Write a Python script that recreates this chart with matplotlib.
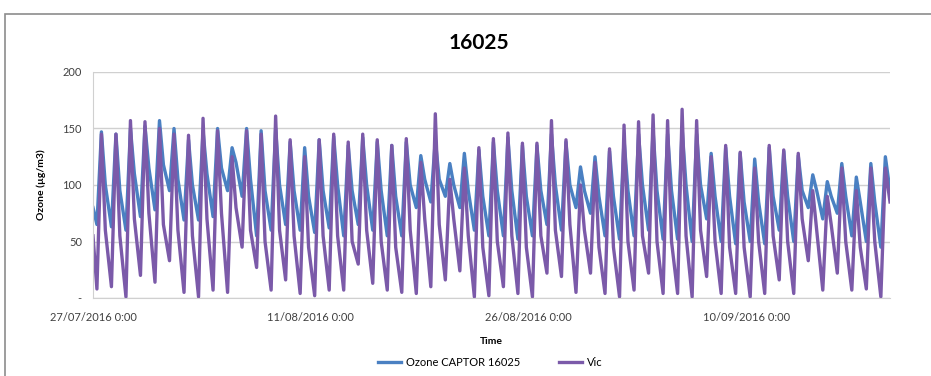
import numpy as np
import pandas as pd
import matplotlib
matplotlib.use("Agg")
import matplotlib.pyplot as plt
from matplotlib.patches import Rectangle
from matplotlib.ticker import FuncFormatter

plt.rcParams["font.family"] = ["Lato", "DejaVu Sans"]

# daily readings (ug/m3), one entry per day from 27/07/2016:
# morning low, afternoon high, evening value
captor_trough = [65, 63, 60, 72, 78, 95, 69, 69, 72, 95, 90, 55, 60, 65, 60,
                 58, 62, 55, 65, 60, 55, 55, 80, 85, 90, 80, 60, 55, 55, 52,
                 55, 65, 60, 80, 75, 55, 52, 55, 60, 52, 52, 50, 70, 50, 48,
                 50, 48, 60, 50, 80, 70, 75, 55, 50, 45]
captor_peak = [147, 145, 150, 152, 157, 150, 140, 148, 150, 133, 150, 148, 150,
               138, 133, 140, 143, 135, 142, 138, 135, 138, 126, 140, 119, 128,
               131, 138, 142, 135, 135, 145, 138, 116, 125, 130, 140, 145, 148,
               145, 150, 145, 128, 133, 128, 123, 133, 130, 126, 109, 103, 119,
               107, 119, 125]
captor_evening = [100, 95, 110, 115, 118, 105, 100, 110, 115, 120, 105, 95,
                  100, 95, 90, 95, 100, 95, 100, 95, 90, 100, 105, 105, 100,
                  95, 90, 95, 95, 90, 95, 100, 100, 95, 90, 90, 95, 100, 95,
                  95, 100, 100, 90, 90, 85, 85, 90, 90, 95, 95, 90, 90, 85, 85]
vic_trough = [8, 10, 1, 20, 14, 33, 5, 1, 7, 5, 45, 27, 7, 16, 4, 2, 7, 7, 30,
              13, 7, 5, 4, 10, 16, 24, 1, 2, 10, 4, 1, 22, 19, 5, 22, 4, 1, 7,
              22, 4, 4, 1, 19, 4, 4, 1, 4, 16, 4, 33, 7, 22, 7, 8, 1]
vic_peak = [145, 145, 157, 156, 150, 145, 144, 159, 148, 125, 148, 145, 161,
            140, 125, 140, 145, 138, 145, 140, 135, 141, 120, 163, 105, 115,
            133, 141, 146, 137, 137, 157, 140, 100, 120, 132, 153, 156, 162,
            157, 167, 157, 125, 135, 129, 115, 135, 131, 128, 95, 90, 115, 95,
            115, 115]
vic_evening = [60, 55, 70, 75, 65, 60, 55, 70, 75, 80, 60, 50, 60, 55, 45, 55,
               55, 50, 60, 50, 45, 60, 70, 65, 70, 55, 45, 50, 55, 45, 55, 60,
               65, 60, 45, 45, 50, 55, 50, 50, 55, 60, 50, 45, 45, 50, 55, 50,
               70, 60, 65, 50, 45, 50]

# first and last hourly readings
captor_ends = [80, 95]
vic_ends = [55, 85]

tick_days = [0, 15, 30, 45]

start = pd.Timestamp("2016-07-27 00:00")
ndays = len(vic_peak)
end_day = ndays - 0.1


def daily(trough, peak, evening, ends):
    # low around 6h, high around 14h, evening around 20h
    days, vals = [0.0], [ends[0]]
    for d in range(ndays):
        days += [d + 0.27, d + 0.58]
        vals += [trough[d], peak[d]]
        if d < len(evening):
            days.append(d + 0.85)
            vals.append(evening[d])
    days.append(end_day)
    vals.append(ends[1])
    return start + pd.to_timedelta(np.array(days), unit="D"), np.array(vals)


t_captor, captor = daily(captor_trough, captor_peak, captor_evening, captor_ends)
t_vic, vic = daily(vic_trough, vic_peak, vic_evening, vic_ends)

fig = plt.figure(figsize=(9.31, 3.76), dpi=100)
fig.patches.append(Rectangle((5 / 931, -0.1), 1.2, 1 - 14 / 376 + 0.1,
                             transform=fig.transFigure, fill=False,
                             edgecolor="#8c8c8c", linewidth=1.2))

ax = fig.add_axes([93 / 931, 1 - 298 / 376, (890 - 93) / 931, (298 - 72) / 376])

ax.plot(t_captor, captor, color="#4a80c2", linewidth=2.4,
        label="Ozone CAPTOR 16025")
ax.plot(t_vic, vic, color="#7b5aa9", linewidth=2.4, label="Vic")

ax.set_ylim(0, 200)
ax.set_yticks([0, 50, 100, 150, 200])
ax.yaxis.set_major_formatter(FuncFormatter(lambda v, p: "-" if v == 0 else f"{v:.0f}"))
ax.set_xlim(start, start + pd.Timedelta(days=end_day))
ax.set_xticks([start + pd.Timedelta(days=d) for d in tick_days])
ax.set_xticklabels([f"{(start + pd.Timedelta(days=d)):%d/%m/%Y} 0:00"
                    for d in tick_days])

ax.grid(axis="y", color="#d0d0d0", linewidth=1.0)
ax.set_axisbelow(True)
for side in ["top", "right"]:
    ax.spines[side].set_visible(False)
for side in ["left", "bottom"]:
    ax.spines[side].set_color("#d0d0d0")
ax.tick_params(length=0, labelsize=8, colors="#404040")
ax.tick_params(axis="x", pad=10)
ax.tick_params(axis="y", pad=8)

ax.set_ylabel("Ozone (\u00b5g/m3)", fontsize=7.5, fontweight="bold", labelpad=12)
ax.set_xlabel("Time", fontsize=7.5, fontweight="bold", labelpad=10)
fig.text(479 / 931, 1 - 43 / 376, "16025", fontsize=15, fontweight="bold",
         ha="center", va="center")

fig.legend(loc="center", bbox_to_anchor=(0.527, 0.037), ncol=2, frameon=False,
           fontsize=8, handlelength=2.0, handletextpad=0.5, columnspacing=3.5)

fig.savefig("out.png", dpi=100)
